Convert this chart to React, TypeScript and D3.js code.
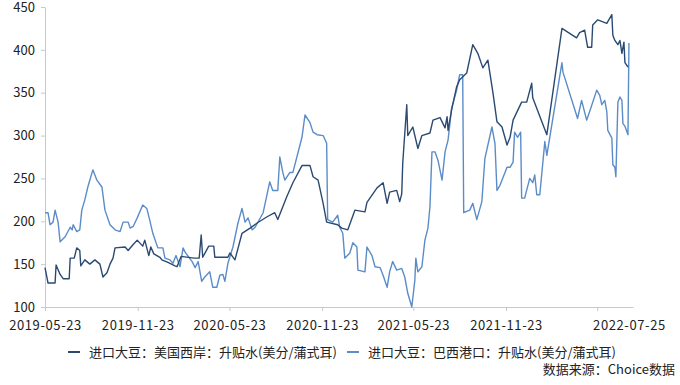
import { useEffect, useRef } from "react"
import * as d3 from "d3"

// 进口大豆：美国西岸：升贴水(美分/蒲式耳)
const usDates = [
  "2019-05-23", "2019-05-29", "2019-06-12", "2019-06-14", "2019-06-22", "2019-06-28", "2019-07-10", "2019-07-12", "2019-07-20", "2019-07-25",
  "2019-07-31", "2019-08-02", "2019-08-10", "2019-08-20", "2019-08-30", "2019-09-09", "2019-09-15", "2019-09-23", "2019-09-29", "2019-10-05",
  "2019-10-09", "2019-10-29", "2019-11-04", "2019-11-14", "2019-11-22", "2019-12-03", "2019-12-07", "2019-12-15", "2019-12-19", "2019-12-25",
  "2020-01-06", "2020-01-10", "2020-01-22", "2020-02-05", "2020-02-09", "2020-02-17", "2020-03-14", "2020-03-24", "2020-03-28", "2020-03-31",
  "2020-04-12", "2020-04-22", "2020-04-24", "2020-05-20", "2020-05-24", "2020-06-03", "2020-06-17", "2020-07-03", "2020-07-17", "2020-08-05",
  "2020-08-21", "2020-08-27", "2020-09-14", "2020-09-26", "2020-10-14", "2020-10-30", "2020-11-05", "2020-11-15", "2020-11-25", "2020-12-02",
  "2020-12-24", "2021-01-01", "2021-01-13", "2021-01-27", "2021-02-16", "2021-02-20", "2021-03-12", "2021-03-24", "2021-04-01", "2021-04-06",
  "2021-04-20", "2021-04-26", "2021-04-30", "2021-05-02", "2021-05-10", "2021-05-12", "2021-05-22", "2021-06-01", "2021-06-09", "2021-06-25",
  "2021-07-01", "2021-07-15", "2021-07-25", "2021-07-29", "2021-07-31", "2021-08-07", "2021-08-17", "2021-08-23", "2021-09-06", "2021-09-18",
  "2021-09-28", "2021-10-08", "2021-10-18", "2021-10-28", "2021-11-05", "2021-11-15", "2021-11-25", "2021-12-01", "2021-12-07", "2021-12-24",
  "2022-01-03", "2022-01-13", "2022-01-15", "2022-02-12", "2022-03-14", "2022-04-12", "2022-04-18", "2022-04-28", "2022-05-04", "2022-05-12",
  "2022-05-14", "2022-05-24", "2022-06-11", "2022-06-21", "2022-06-23", "2022-06-27", "2022-07-03", "2022-07-07", "2022-07-11", "2022-07-15",
  "2022-07-17", "2022-07-23",
]
const usValues = [
  146, 128, 128, 149, 138, 133, 133, 157, 157, 169,
  166, 148, 155, 150, 155, 150, 135, 140, 150, 157,
  169, 170, 166, 173, 178, 171, 178, 160, 170, 162,
  158, 155, 152, 148, 147, 159, 157, 157, 184, 158,
  171, 171, 158, 158, 163, 155, 186, 192, 198, 205,
  210, 202, 229, 245, 265, 265, 252, 248, 221, 199,
  196, 192, 190, 213, 211, 222, 239, 245, 221, 234,
  236, 223, 232, 268, 336, 300, 310, 285, 300, 303,
  318, 321, 309, 322, 306, 330, 357, 365, 373, 406,
  396, 379, 388, 350, 316, 310, 289, 298, 318, 339,
  339, 361, 344, 301, 425, 414, 420, 423, 403, 403,
  429, 435, 431, 441, 417, 411, 406, 411, 396, 409,
  385, 380,
]

// 进口大豆：巴西港口：升贴水(美分/蒲式耳)
const brDates = [
  "2019-05-23", "2019-05-29", "2019-06-02", "2019-06-08", "2019-06-12", "2019-06-18", "2019-06-22", "2019-07-02", "2019-07-12", "2019-07-16",
  "2019-07-18", "2019-07-25", "2019-07-31", "2019-08-04", "2019-08-10", "2019-08-16", "2019-08-26", "2019-09-03", "2019-09-13", "2019-09-19",
  "2019-09-29", "2019-10-09", "2019-10-19", "2019-10-25", "2019-11-04", "2019-11-08", "2019-11-14", "2019-11-22", "2019-12-03", "2019-12-11",
  "2019-12-17", "2019-12-23", "2020-01-02", "2020-01-12", "2020-01-16", "2020-01-26", "2020-02-01", "2020-02-07", "2020-02-15", "2020-02-21",
  "2020-02-25", "2020-03-10", "2020-03-16", "2020-03-22", "2020-03-29", "2020-04-04", "2020-04-14", "2020-04-20", "2020-04-28", "2020-05-04",
  "2020-05-10", "2020-05-14", "2020-05-20", "2020-05-30", "2020-06-09", "2020-06-17", "2020-06-23", "2020-06-29", "2020-07-07", "2020-07-13",
  "2020-07-29", "2020-08-11", "2020-08-17", "2020-08-27", "2020-08-31", "2020-09-06", "2020-09-10", "2020-09-20", "2020-09-26", "2020-10-14",
  "2020-10-20", "2020-10-30", "2020-11-05", "2020-11-13", "2020-11-25", "2020-12-02", "2020-12-04", "2020-12-14", "2020-12-24", "2020-12-28",
  "2021-01-03", "2021-01-07", "2021-01-17", "2021-01-23", "2021-01-31", "2021-02-02", "2021-02-16", "2021-02-20", "2021-03-02", "2021-03-08",
  "2021-03-18", "2021-03-24", "2021-04-01", "2021-04-06", "2021-04-12", "2021-04-20", "2021-04-30", "2021-05-06", "2021-05-12", "2021-05-20",
  "2021-05-26", "2021-05-28", "2021-06-01", "2021-06-09", "2021-06-15", "2021-06-21", "2021-06-25", "2021-06-29", "2021-07-05", "2021-07-11",
  "2021-07-19", "2021-07-25", "2021-07-31", "2021-08-07", "2021-08-17", "2021-08-23", "2021-08-29", "2021-08-31", "2021-09-12", "2021-09-18",
  "2021-09-26", "2021-10-06", "2021-10-12", "2021-10-26", "2021-11-01", "2021-11-05", "2021-11-11", "2021-11-25", "2021-12-01", "2021-12-07",
  "2021-12-10", "2021-12-16", "2021-12-22", "2021-12-24", "2021-12-30", "2022-01-09", "2022-01-15", "2022-01-19", "2022-01-23", "2022-01-29",
  "2022-02-08", "2022-02-12", "2022-03-14", "2022-03-16", "2022-04-14", "2022-04-22", "2022-05-02", "2022-05-08", "2022-05-22", "2022-05-28",
  "2022-06-01", "2022-06-07", "2022-06-11", "2022-06-13", "2022-06-21", "2022-06-23", "2022-06-27", "2022-06-29", "2022-07-03", "2022-07-07",
  "2022-07-11", "2022-07-13", "2022-07-17", "2022-07-23", "2022-07-25",
]
const brValues = [
  210, 210, 196, 199, 213, 199, 176, 182, 193, 190,
  196, 188, 190, 213, 225, 240, 260, 248, 240, 213,
  196, 190, 188, 199, 199, 192, 194, 204, 219, 215,
  201, 186, 169, 169, 157, 155, 151, 160, 147, 169,
  164, 153, 146, 153, 130, 135, 141, 123, 123, 137,
  138, 130, 151, 170, 198, 215, 199, 204, 190, 193,
  210, 246, 236, 236, 275, 257, 248, 257, 257, 298,
  324, 315, 304, 301, 300, 291, 202, 199, 207, 193,
  186, 157, 163, 175, 170, 143, 141, 170, 160, 147,
  146, 137, 123, 141, 153, 143, 145, 135, 116, 100,
  131, 157, 141, 147, 178, 192, 217, 281, 281, 271,
  248, 281, 295, 332, 353, 371, 371, 210, 213, 221,
  202, 223, 273, 310, 291, 236, 242, 263, 263, 269,
  304, 298, 304, 227, 227, 250, 245, 254, 231, 231,
  293, 277, 385, 374, 320, 341, 318, 328, 353, 347,
  336, 341, 328, 306, 297, 266, 263, 252, 339, 345,
  341, 314, 311, 301, 408,
]

const seriesNames = ["进口大豆：美国西岸：升贴水(美分/蒲式耳)", "进口大豆：巴西港口：升贴水(美分/蒲式耳)"]
const seriesColors = ["#2b4a72", "#5b8cc8"]

const yTicks = [100, 150, 200, 250, 300, 350, 400, 450]
const xTickDates = ["2019-05-23", "2019-11-23", "2020-05-23", "2020-11-23", "2021-05-23", "2021-11-23", "2022-05-23"]
const xLabelDates = ["2019-05-23", "2019-11-23", "2020-05-23", "2020-11-23", "2021-05-23", "2021-11-23", "2022-07-25"]
const xDomain = ["2019-05-23", "2022-08-02"]
const sourceText = "数据来源：Choice数据"

const FONT = '"Noto Sans CJK SC", "Noto Sans", sans-serif'

export default function App() {
  const svgRef = useRef<SVGSVGElement>(null)

  useEffect(() => {
    if (!svgRef.current) return
    const svg = d3.select(svgRef.current)
    svg.selectAll("*").remove()

    const parse = d3.timeParse("%Y-%m-%d")
    const x = d3
      .scaleTime()
      .domain(xDomain.map((d) => parse(d) as Date))
      .range([45, 633])
    const y = d3.scaleLinear().domain([100, 450]).range([307, 7])

    svg.append("rect").attr("width", 680).attr("height", 385).attr("fill", "#fff")

    // y axis
    const yAxis = svg
      .append("g")
      .attr("transform", "translate(45,0)")
      .call(d3.axisLeft(y).tickValues(yTicks).tickSize(4).tickSizeOuter(0).tickPadding(6))
    yAxis.select(".domain").attr("stroke", "#c9c9c9")
    yAxis.selectAll(".tick line").attr("stroke", "#c9c9c9")
    yAxis.selectAll("text").attr("fill", "#222").style("font-size", "13px").style("font-family", FONT)

    // x axis ticks
    const xAxis = svg
      .append("g")
      .attr("transform", "translate(0,307)")
      .call(
        d3
          .axisBottom(x)
          .tickValues(xTickDates.map((d) => parse(d) as Date))
          .tickSize(4)
          .tickSizeOuter(0)
          .tickFormat(() => ""),
      )
    xAxis.select(".domain").attr("stroke", "#c9c9c9")
    xAxis.selectAll(".tick line").attr("stroke", "#c9c9c9")

    // x axis labels
    const xLabels = svg
      .append("g")
      .attr("transform", "translate(0,307)")
      .call(
        d3
          .axisBottom(x)
          .tickValues(xLabelDates.map((d) => parse(d) as Date))
          .tickSize(0)
          .tickPadding(14)
          .tickFormat((d) => d3.timeFormat("%Y-%m-%d")(d as Date)),
      )
    xLabels.select(".domain").remove()
    xLabels
      .selectAll("text")
      .attr("fill", "#222")
      .style("font-size", "13px")
      .style("letter-spacing", "0.6px")
      .style("font-family", FONT)

    const line = d3
      .line<[Date, number]>()
      .x((d) => x(d[0]))
      .y((d) => y(d[1]))

    const brData = brDates.map((d, i) => [parse(d) as Date, brValues[i]] as [Date, number])
    const usData = usDates.map((d, i) => [parse(d) as Date, usValues[i]] as [Date, number])

    svg
      .append("path")
      .datum(brData)
      .attr("fill", "none")
      .attr("stroke", seriesColors[1])
      .attr("stroke-width", 1.4)
      .attr("stroke-linejoin", "round")
      .attr("d", line)

    svg
      .append("path")
      .datum(usData)
      .attr("fill", "none")
      .attr("stroke", seriesColors[0])
      .attr("stroke-width", 1.4)
      .attr("stroke-linejoin", "round")
      .attr("d", line)

    // legend
    const legendX = [68, 347]
    const legend = svg.append("g").attr("transform", "translate(0,352)")
    seriesNames.forEach((name, i) => {
      legend
        .append("line")
        .attr("x1", legendX[i])
        .attr("x2", legendX[i] + 12)
        .attr("y1", 0)
        .attr("y2", 0)
        .attr("stroke", seriesColors[i])
        .attr("stroke-width", 2)
      legend
        .append("text")
        .attr("x", legendX[i] + 21)
        .attr("y", 0)
        .attr("dy", "0.35em")
        .attr("fill", "#222")
        .style("font-size", "13px")
        .style("font-family", FONT)
        .text(name)
    })

    svg
      .append("text")
      .attr("x", 675)
      .attr("y", 369)
      .attr("dy", "0.35em")
      .attr("text-anchor", "end")
      .attr("fill", "#222")
      .style("font-size", "13px")
      .style("font-family", FONT)
      .text(sourceText)
  }, [])

  return (
    <div style={{ position: "absolute", left: 0, top: 0 }}>
      <svg ref={svgRef} width={680} height={385} />
    </div>
  )
}
